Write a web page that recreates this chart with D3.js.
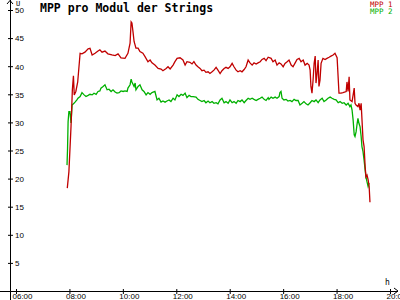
<!DOCTYPE html>
<html>
<head>
<meta charset="utf-8">
<script src="https://cdn.jsdelivr.net/npm/d3@7"></script>
<style>
  body { margin: 0; background: #fff; }
  svg { display: block; font-family: "DejaVu Sans Mono", monospace; }
</style>
</head>
<body>
<svg></svg>
<script>
// hours of day (decimal) and MPP values per module
let mpp1Time = [7.92, 7.98, 8.06, 8.11, 8.15, 8.18, 8.24, 8.31, 8.40, 8.47, 8.58, 8.70, 8.77, 8.85, 8.96, 9.07, 9.14, 9.22, 9.33, 9.44, 9.59, 9.71, 9.82, 9.93, 10.08, 10.19, 10.27, 10.31, 10.34, 10.38, 10.42, 10.49, 10.57, 10.64, 10.75, 10.83, 10.94, 11.02, 11.09, 11.20, 11.32, 11.43, 11.50, 11.62, 11.69, 11.77, 11.88, 11.95, 12.03, 12.14, 12.25, 12.33, 12.40, 12.51, 12.59, 12.66, 12.74, 12.81, 12.89, 12.96, 13.04, 13.11, 13.19, 13.26, 13.34, 13.41, 13.49, 13.56, 13.64, 13.71, 13.79, 13.86, 13.94, 14.01, 14.09, 14.16, 14.24, 14.31, 14.39, 14.46, 14.54, 14.61, 14.69, 14.76, 14.84, 14.91, 14.99, 15.06, 15.14, 15.21, 15.29, 15.36, 15.44, 15.55, 15.62, 15.70, 15.77, 15.85, 15.92, 16.00, 16.07, 16.15, 16.22, 16.30, 16.37, 16.45, 16.52, 16.60, 16.67, 16.75, 16.82, 16.90, 16.97, 17.01, 17.04, 17.08, 17.12, 17.16, 17.20, 17.23, 17.27, 17.31, 17.34, 17.38, 17.42, 17.49, 17.57, 17.64, 17.72, 17.79, 17.87, 17.94, 18.02, 18.09, 18.17, 18.24, 18.36, 18.39, 18.43, 18.47, 18.50, 18.58, 18.66, 18.69, 18.73, 18.80, 18.84, 18.88, 18.92, 18.99, 19.03, 19.07, 19.10, 19.14, 19.18, 19.22, 19.25]
let mpp1Value = [18.3, 21.2, 29.3, 35.8, 38.3, 34.9, 35.5, 37.2, 42.3, 42.2, 42.5, 43.1, 43.2, 42.0, 42.3, 42.7, 42.9, 42.5, 42.7, 42.2, 42.0, 41.9, 42.2, 41.5, 41.4, 42.3, 44.1, 47.9, 47.7, 46.1, 44.4, 43.2, 43.2, 42.6, 42.3, 41.7, 40.8, 41.1, 40.6, 40.2, 39.6, 39.5, 39.2, 39.6, 39.9, 39.5, 40.2, 40.8, 41.4, 41.5, 41.1, 40.2, 40.8, 40.7, 40.4, 40.8, 40.2, 39.9, 39.6, 39.2, 39.3, 38.9, 39.0, 38.7, 39.0, 39.3, 39.8, 39.3, 38.7, 39.2, 39.6, 39.8, 39.6, 39.9, 40.5, 39.9, 39.3, 39.0, 39.2, 39.0, 39.4, 39.9, 41.1, 40.6, 40.2, 40.6, 40.4, 40.6, 40.8, 41.2, 41.4, 41.0, 41.6, 41.4, 40.8, 41.1, 40.2, 40.6, 40.4, 39.9, 40.5, 40.8, 41.1, 40.2, 39.9, 40.6, 41.2, 41.4, 40.8, 41.1, 40.2, 40.5, 40.2, 39.3, 36.4, 35.2, 37.5, 40.5, 41.8, 37.0, 38.7, 41.1, 36.4, 37.5, 40.5, 41.4, 41.2, 41.4, 41.6, 41.8, 42.0, 42.3, 41.5, 35.2, 35.2, 35.3, 35.5, 37.2, 35.5, 38.1, 34.0, 33.7, 36.1, 33.4, 33.1, 32.8, 33.4, 32.2, 33.4, 26.9, 25.7, 22.1, 20.3, 20.6, 19.8, 18.6, 15.8]

let mpp2Time = [7.91, 7.93, 7.95, 7.98, 8.02, 8.06, 8.10, 8.17, 8.21, 8.28, 8.32, 8.40, 8.47, 8.55, 8.62, 8.70, 8.77, 8.85, 8.92, 9.00, 9.07, 9.14, 9.18, 9.26, 9.33, 9.41, 9.48, 9.56, 9.63, 9.71, 9.78, 9.86, 9.93, 10.01, 10.08, 10.16, 10.19, 10.27, 10.31, 10.34, 10.42, 10.46, 10.49, 10.57, 10.64, 10.72, 10.79, 10.87, 10.94, 11.02, 11.09, 11.20, 11.28, 11.35, 11.43, 11.50, 11.58, 11.65, 11.73, 11.80, 11.88, 11.95, 12.03, 12.10, 12.18, 12.25, 12.33, 12.40, 12.48, 12.55, 12.63, 12.74, 12.81, 12.89, 12.96, 13.04, 13.11, 13.19, 13.26, 13.34, 13.41, 13.49, 13.56, 13.64, 13.71, 13.79, 13.86, 13.94, 14.01, 14.09, 14.16, 14.24, 14.31, 14.39, 14.46, 14.54, 14.61, 14.69, 14.76, 14.84, 14.91, 14.99, 15.06, 15.14, 15.21, 15.29, 15.36, 15.44, 15.47, 15.55, 15.62, 15.70, 15.77, 15.85, 15.88, 15.92, 15.96, 16.03, 16.11, 16.18, 16.26, 16.33, 16.41, 16.48, 16.56, 16.63, 16.71, 16.78, 16.86, 16.93, 17.01, 17.08, 17.16, 17.23, 17.31, 17.38, 17.46, 17.53, 17.61, 17.68, 17.76, 17.83, 17.91, 17.98, 18.06, 18.13, 18.21, 18.28, 18.36, 18.43, 18.50, 18.54, 18.58, 18.62, 18.66, 18.69, 18.73, 18.77, 18.80, 18.84, 18.88, 18.92, 18.95, 18.99, 19.03, 19.07, 19.10, 19.14, 19.18, 19.22]
let mpp2Value = [22.4, 25.4, 30.1, 31.9, 31.9, 29.9, 33.1, 33.4, 33.6, 34.0, 34.3, 34.6, 35.3, 34.9, 34.6, 34.8, 35.0, 34.9, 35.2, 35.0, 35.5, 35.6, 36.1, 36.4, 36.7, 35.8, 35.9, 35.5, 35.8, 35.4, 35.2, 35.3, 35.6, 35.5, 35.6, 35.5, 36.1, 36.7, 37.7, 37.2, 36.4, 37.0, 35.8, 36.4, 36.7, 35.8, 35.5, 34.9, 35.3, 35.0, 35.3, 35.5, 34.0, 34.3, 33.6, 33.8, 33.6, 33.8, 34.0, 33.7, 34.3, 34.0, 34.9, 34.6, 35.0, 34.8, 35.2, 34.4, 34.8, 34.6, 34.6, 34.5, 34.1, 33.9, 33.7, 33.9, 33.5, 33.8, 33.5, 33.7, 33.4, 33.5, 33.3, 34.0, 34.3, 33.5, 33.7, 33.4, 34.0, 33.5, 33.7, 33.4, 33.9, 33.7, 34.0, 33.5, 33.9, 34.3, 34.1, 34.3, 34.1, 33.9, 34.1, 34.3, 34.5, 34.1, 33.9, 34.4, 34.1, 34.5, 34.3, 34.5, 34.3, 34.6, 35.3, 35.5, 34.3, 34.0, 34.1, 33.8, 33.9, 33.7, 34.1, 33.9, 33.9, 33.1, 33.4, 33.7, 33.3, 33.1, 33.5, 33.9, 33.7, 34.0, 33.5, 34.0, 34.3, 33.7, 34.0, 34.3, 34.5, 34.3, 34.1, 34.0, 33.5, 33.7, 33.4, 33.5, 33.1, 33.4, 32.8, 33.1, 32.2, 30.4, 27.8, 27.5, 28.3, 29.8, 30.7, 29.8, 29.2, 27.5, 25.7, 24.8, 23.3, 21.5, 20.3, 19.4, 18.6, 19.2]

let seriesNames = ["MPP 1", "MPP 2"]
let seriesColors = ["#c00000", "#00b000"]
let xTicks = [6, 8, 10, 12, 14, 16, 18, 20]
let yTicks = [5, 10, 15, 20, 25, 30, 35, 40, 45, 50]

let width = 400
let height = 300

let svg = d3.select("svg")
let xScale
let yScale

let drawCanvas = () => {
    svg.attr("width", width)
    svg.attr("height", height)
}

let generateScales = () => {
    xScale = d3.scaleLinear().domain([6, 20]).range([16, 390])
    yScale = d3.scaleLinear().domain([0, 50]).range([291, 10])
}

let generateAxis = () => {
    // x axis
    let xAxis = d3.axisBottom(xScale)
        .tickValues(xTicks)
        .tickSize(3)
        .tickFormat(d => d3.format("02")(d) + ":00")

    let gx = svg.append("g")
        .attr("transform", "translate(0," + yScale(0) + ")")
        .call(xAxis)
    gx.select(".domain").remove()
    gx.selectAll(".tick line").attr("y1", -2).attr("stroke", "#000")
    gx.selectAll(".tick text")
        .attr("y", 8).attr("dy", 0).attr("x", -4)
        .attr("text-anchor", "start")
        .style("font-size", "8px").attr("fill", "#000")

    // y axis
    let yAxis = d3.axisRight(yScale)
        .tickValues(yTicks)
        .tickSize(3)

    let gy = svg.append("g")
        .attr("transform", "translate(10,0)")
        .call(yAxis)
    gy.select(".domain").remove()
    gy.selectAll(".tick line").attr("x1", -2).attr("stroke", "#000")
    gy.selectAll(".tick text")
        .attr("x", 5).attr("dy", "0.36em")
        .style("font-size", "8px").attr("fill", "#000")

    // axis lines with arrows
    svg.append("line")
        .attr("x1", 0).attr("x2", 398)
        .attr("y1", yScale(0)).attr("y2", yScale(0))
        .attr("stroke", "#000").attr("shape-rendering", "crispEdges")
    svg.append("path")
        .attr("d", `M394,${yScale(0) - 3} L398,${yScale(0)} L394,${yScale(0) + 3}`)
        .attr("fill", "none").attr("stroke", "#000")
    svg.append("line")
        .attr("x1", 10).attr("x2", 10)
        .attr("y1", 0).attr("y2", height)
        .attr("stroke", "#000").attr("shape-rendering", "crispEdges")
    svg.append("path")
        .attr("d", "M7,4 L10,0.5 L13,4")
        .attr("fill", "none").attr("stroke", "#000")

    svg.append("text")
        .attr("x", 16).attr("y", 6)
        .style("font-size", "7px")
        .text("U")
    svg.append("text")
        .attr("x", 385).attr("y", 285)
        .style("font-size", "8px")
        .text("h")
}

let drawLines = () => {
    let data = [
        mpp1Time.map((t, i) => [t, mpp1Value[i]]),
        mpp2Time.map((t, i) => [t, mpp2Value[i]])
    ]
    let line = d3.line()
        .x(d => xScale(d[0]))
        .y(d => yScale(d[1]))

    // green first so the red one sits on top
    svg.selectAll(".mpp")
        .data([1, 0])
        .enter()
        .append("path")
        .attr("class", "mpp")
        .attr("d", i => line(data[i]))
        .attr("fill", "none")
        .attr("stroke", i => seriesColors[i])
        .attr("stroke-width", 1.3)
}

let drawTitle = () => {
    svg.append("text")
        .attr("x", 40).attr("y", 12)
        .style("font-size", "11.5px")
        .style("font-weight", "bold")
        .text("MPP pro Modul der Strings")

    svg.selectAll(".legend")
        .data(seriesNames)
        .enter()
        .append("text")
        .attr("class", "legend")
        .attr("x", 370)
        .attr("y", (d, i) => 6.5 + i * 7.5)
        .style("font-size", "7.5px")
        .attr("fill", (d, i) => seriesColors[i])
        .text(d => d)
}

drawCanvas()
generateScales()
generateAxis()
drawLines()
drawTitle()
</script>
</body>
</html>
